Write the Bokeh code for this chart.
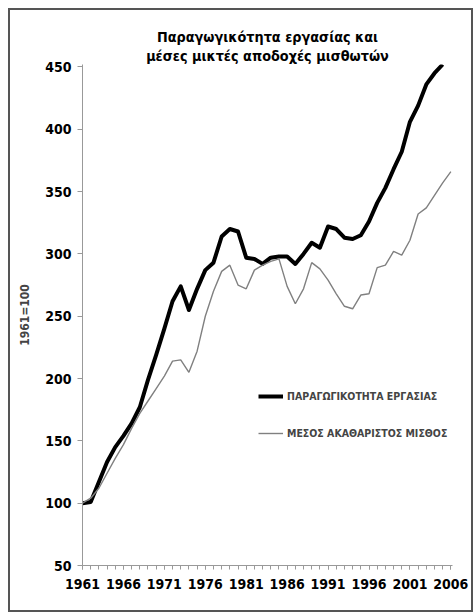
from bokeh.plotting import figure
from bokeh.models import FixedTicker, Legend, LegendItem, Title, Range1d
from bokeh.embed import file_html
from bokeh.resources import INLINE

years = list(range(1961, 2007))
productivity = [100, 101, 117, 133, 145, 154, 164, 177, 199, 219, 240, 262, 274, 255,
                272, 287, 293, 314, 320, 318, 297, 296, 292, 297, 298, 298, 292, 300,
                309, 305, 322, 320, 313, 312, 315, 326, 341, 353, 368, 382, 406, 419,
                436, 445, 452]
wages = [100, 104, 112, 124, 136, 147, 160, 172, 182, 192, 202, 214, 215, 205,
         222, 250, 270, 286, 291, 275, 272, 287, 291, 294, 296, 274, 260, 272,
         293, 288, 279, 268, 258, 256, 267, 268, 289, 291, 302, 299, 311, 332,
         337, 347, 357, 366]
x_labels = [1961, 1966, 1971, 1976, 1981, 1986, 1991, 1996, 2001, 2006]
y_ticks = [50, 100, 150, 200, 250, 300, 350, 400, 450]
title_lines = ["Παραγωγικότητα εργασίας και", "μέσες μικτές αποδοχές μισθωτών"]
series_names = ["ΠΑΡΑΓΩΓΙΚΟΤΗΤΑ ΕΡΓΑΣΙΑΣ", "ΜΕΣΟΣ ΑΚΑΘΑΡΙΣΤΟΣ ΜΙΣΘΟΣ"]
y_label = "1961=100"

FONT = "'DejaVu Sans Condensed', 'Liberation Sans', sans-serif"

p = figure(width=465, height=604, output_backend="svg", toolbar_location=None,
           x_range=Range1d(1961, 2006.2), y_range=Range1d(50, 452),
           min_border_left=72, min_border_right=23, min_border_top=54,
           min_border_bottom=49, title=None,
           styles={"border": "2px solid #555", "margin-left": "8px",
                   "margin-top": "8px"})
p.outline_line_color = None
p.xgrid.visible = False
p.ygrid.visible = False

# titles (added bottom-up)
for txt in reversed(title_lines):
    p.add_layout(Title(text=txt, align="center", text_font=FONT,
                       text_font_size="14.3px", text_font_style="bold",
                       text_color="black", standoff=1), "above")

l1 = p.line(years[:len(productivity)], productivity, line_color="black", line_width=4,
            line_join="round")
l2 = p.line(years[:len(wages)], wages, line_color="#808080", line_width=1.4)

xa = p.xaxis[0]
xa.ticker = FixedTicker(ticks=x_labels, minor_ticks=years)
xa.major_tick_out = 4
xa.major_tick_in = 0
xa.minor_tick_out = 4
xa.minor_tick_in = 0
xa.major_label_standoff = 9

ya = p.yaxis[0]
ya.ticker = FixedTicker(ticks=y_ticks, minor_ticks=[])
ya.major_tick_out = 5
ya.major_tick_in = 0
ya.minor_tick_out = 0
ya.minor_tick_in = 0
ya.major_label_standoff = 6
ya.axis_label = y_label
ya.axis_label_text_font = FONT
ya.axis_label_text_font_size = "12px"
ya.axis_label_text_font_style = "bold"
ya.axis_label_standoff = 10

for ax in (xa, ya):
    ax.axis_line_color = "#999999"
    ax.major_tick_line_color = "#999999"
    ax.minor_tick_line_color = "#999999"
    ax.major_label_text_font = FONT
    ax.major_label_text_font_size = "14px"
    ax.major_label_text_font_style = "bold"
    ax.major_label_text_color = "black"

legend = Legend(items=[LegendItem(label=series_names[0], renderers=[l1]),
                       LegendItem(label=series_names[1], renderers=[l2])],
                location=(176, 125), border_line_color=None,
                background_fill_alpha=0, padding=0, margin=0,
                glyph_width=25, glyph_height=14, label_height=14,
                spacing=23, label_standoff=4,
                label_text_font=FONT, label_text_font_size="10.5px",
                label_text_font_style="bold")
p.add_layout(legend)

open("out.html", "w").write(file_html(p, INLINE))
